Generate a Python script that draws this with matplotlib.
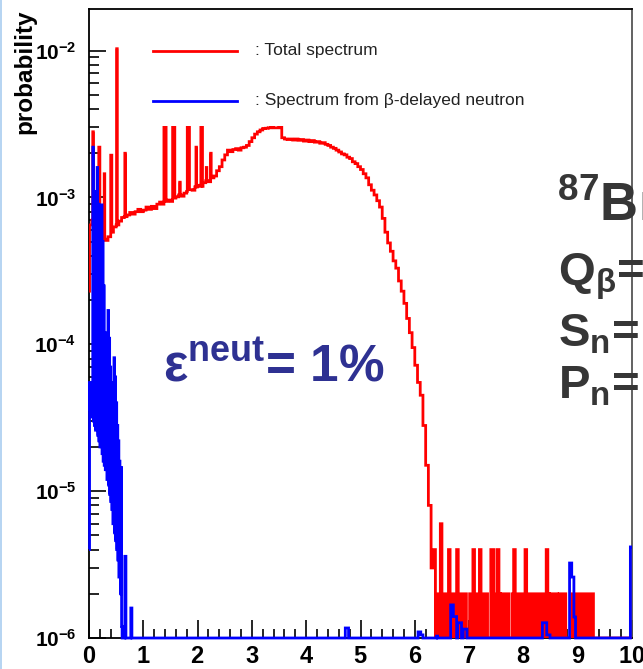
import numpy as np
import matplotlib
matplotlib.use("Agg")
import matplotlib.pyplot as plt
from matplotlib.ticker import FixedLocator, FuncFormatter, MultipleLocator, LogLocator, NullFormatter

plt.rcParams["font.family"] = ["Liberation Sans", "DejaVu Sans"]
plt.rcParams["mathtext.fontset"] = "custom"
plt.rcParams["mathtext.rm"] = "Liberation Sans"
plt.rcParams["mathtext.bf"] = "Liberation Sans:bold"
plt.rcParams["mathtext.it"] = "Liberation Sans:italic"
plt.rcParams["mathtext.sf"] = "Liberation Sans"

# ---------------- data ----------------
# Total spectrum: smooth part in 0.05 MeV bins from 0 to 6.35 MeV
red_first_bin = 2.3e-4
red_cont = [
    6.5e-4, 7.0e-4, 6.0e-4, 5.5e-4, 5.5e-4, 5.2e-4, 5.1e-4, 5.4e-4, 5.8e-4, 6.3e-4,
    6.5e-4, 6.9e-4, 7.3e-4, 7.4e-4, 7.6e-4, 7.9e-4, 7.7e-4, 8.0e-4, 8.3e-4, 8.0e-4,
    8.2e-4, 8.6e-4, 8.3e-4, 8.7e-4, 8.4e-4, 9.0e-4, 9.3e-4, 9.0e-4, 9.4e-4, 9.6e-4,
    9.4e-4, 9.9e-4, 1.01e-3, 1.04e-3, 1.02e-3, 1.07e-3, 1.10e-3, 1.13e-3, 1.12e-3, 1.18e-3,
    1.21e-3, 1.19e-3, 1.26e-3, 1.30e-3, 1.28e-3, 1.36e-3, 1.40e-3, 1.52e-3, 1.62e-3, 1.80e-3,
    1.95e-3, 2.10e-3, 2.05e-3, 2.12e-3, 2.15e-3, 2.10e-3, 2.18e-3, 2.20e-3, 2.26e-3, 2.40e-3,
    2.55e-3, 2.70e-3, 2.80e-3, 2.88e-3, 2.95e-3, 2.96e-3, 2.98e-3, 3.00e-3, 2.98e-3, 2.98e-3,
    3.00e-3, 2.55e-3, 2.50e-3, 2.48e-3, 2.50e-3, 2.46e-3, 2.50e-3, 2.45e-3, 2.48e-3, 2.42e-3,
    2.46e-3, 2.40e-3, 2.44e-3, 2.38e-3, 2.40e-3, 2.34e-3, 2.36e-3, 2.30e-3, 2.26e-3, 2.20e-3,
    2.16e-3, 2.10e-3, 2.04e-3, 1.98e-3, 1.95e-3, 1.88e-3, 1.84e-3, 1.75e-3, 1.70e-3, 1.62e-3,
    1.55e-3, 1.45e-3, 1.36e-3, 1.22e-3, 1.12e-3, 1.04e-3, 9.5e-4, 8.6e-4, 7.2e-4, 5.8e-4,
    4.9e-4, 4.3e-4, 3.7e-4, 3.3e-4, 2.7e-4, 2.3e-4, 1.9e-4, 1.5e-4, 1.2e-4, 9.5e-5,
    7.2e-5, 5.5e-5, 4.5e-5, 2.8e-5, 1.5e-5, 8.0e-6, 3.0e-6,
]
# narrow gamma lines on top of the smooth part: (start MeV, width MeV, probability)
red_peaks = [
    (0.07, 0.01, 2.8e-3), (0.18, 0.02, 2.2e-3), (0.28, 0.01, 1.45e-3),
    (0.40, 0.02, 1.94e-3), (0.51, 0.01, 1.03e-2), (0.66, 0.01, 2.0e-3),
    (1.38, 0.04, 3.0e-3), (1.54, 0.04, 3.0e-3), (1.67, 0.01, 1.27e-3),
    (1.81, 0.04, 3.0e-3), (1.97, 0.01, 2.2e-3), (2.06, 0.03, 3.0e-3),
    (2.16, 0.01, 1.6e-3), (2.24, 0.01, 2.0e-3),
]
# high-energy tail: counts in 0.03 MeV bins from 6.35 MeV, one count = 2e-6
count_unit = 2.0e-6
red_tail_counts = [
    2, 1, 1, 1, 3, 1, 1, 1, 1, 2, 1, 1, 1, 1, 2, 1, 1, 1, 1, 1,
    0, 0, 1, 1, 2, 1, 1, 1, 2, 1, 1, 1, 1, 0, 0, 2, 2, 1, 1, 2,
    1, 0, 1, 1, 1, 1, 0, 0, 1, 2, 1, 1, 1, 1, 1, 1, 2, 1, 1, 1,
    1, 1, 1, 1, 1, 1, 1, 1, 1, 2, 1, 0, 1, 1, 1, 1, 0, 1, 1, 1,
    1, 0, 0, 0, 0, 1, 1, 1, 1, 1, 1, 1, 1, 1, 1, 1, 1, 1, 0, 0,
]
# beta-delayed neutron spectrum, 0.01 MeV bins from 0 to 0.80 MeV
blue_low = [
    4.0e-6, 5.5e-5, 3.6e-5, 5.2e-5, 3.4e-5, 4.8e-5, 3.2e-5, 2.2e-3, 3.0e-5, 1.1e-3,
    2.8e-5, 6.0e-4, 2.6e-5, 6.5e-5, 7.0e-5, 1.6e-3, 2.4e-5, 9.0e-4, 2.2e-5, 4.0e-4,
    2.0e-5, 2.0e-4, 5.0e-5, 8.9e-4, 1.8e-5, 5.0e-4, 1.6e-5, 2.5e-4, 1.5e-5, 1.2e-4,
    1.4e-5, 4.0e-5, 3.5e-5, 1.2e-5, 3.0e-5, 1.7e-4, 1.1e-5, 1.1e-4, 9.5e-6, 7.0e-5,
    8.5e-6, 5.5e-5, 7.5e-6, 2.5e-5, 6.0e-6, 2.2e-5, 8.1e-5, 5.2e-6, 6.0e-5, 4.6e-6,
    4.0e-5, 4.0e-6, 2.8e-5, 3.4e-6, 2.2e-5, 2.6e-6, 1.6e-5, 1.45e-5, 2.0e-6, 1.45e-5,
    1.2e-6, 0, 0, 0, 0, 0, 3.6e-6, 3.6e-6, 0, 0,
    0, 0, 0, 0, 0, 0, 0, 1.6e-6, 1.6e-6, 0,
]
# small neutron contributions at higher energy: (start MeV, width MeV, probability)
blue_bumps = [
    (4.72, 0.06, 1.17e-6), (6.06, 0.05, 1.10e-6), (6.11, 0.04, 1.05e-6),
    (6.40, 0.02, 1.03e-6), (6.66, 0.05, 1.68e-6), (6.71, 0.06, 1.40e-6),
    (6.79, 0.07, 1.27e-6), (6.89, 0.07, 1.15e-6), (8.35, 0.08, 1.27e-6),
    (8.43, 0.06, 1.05e-6), (8.85, 0.04, 3.24e-6), (8.89, 0.04, 2.60e-6),
    (8.93, 0.03, 1.39e-6), (9.97, 0.03, 4.17e-6),
]

x_ticks = [0, 1, 2, 3, 4, 5, 6, 7, 8, 9, 10]
y_decades = [1e-6, 1e-5, 1e-4, 1e-3, 1e-2]
legend_labels = [": Total spectrum", ": Spectrum from \u03b2-delayed neutron"]

# ---------------- histograms on a 0.01 MeV grid ----------------
step = 0.01
nbin = 1000
edges = np.arange(nbin + 1) * step

red = np.zeros(nbin)
for i, v in enumerate(red_cont):
    red[5 * i:5 * i + 5] = v
red[0] = red_first_bin
for x0, w, v in red_peaks:
    i0 = int(round(x0 / step))
    red[i0:i0 + int(round(w / step))] = v
tail_start = 635
for i, c in enumerate(red_tail_counts):
    red[tail_start + 3 * i:tail_start + 3 * i + 3] = c * count_unit

blue = np.zeros(nbin)
blue[:len(blue_low)] = blue_low
for x0, w, v in blue_bumps:
    i0 = int(round(x0 / step))
    blue[i0:i0 + int(round(w / step))] = v

ymin, ymax = 1e-6, 1.92e-2
red_plot = np.maximum(red, ymin)
blue_plot = np.maximum(blue, ymin)

# ---------------- figure ----------------
W, H = 643, 669
fig = plt.figure(figsize=(W / 100, H / 100), dpi=100)
ax = fig.add_axes([89 / W, 1 - 638 / H, (632 - 89) / W, (638 - 9) / H])
ax.set_yscale("log")
ax.set_xlim(0, 10)
ax.set_ylim(ymin, ymax)

lw = 2.0
ax.stairs(red_plot, edges, color="#ff0000", lw=lw, baseline=None, zorder=3)
# dense single counts in the tail merge into a solid band
tail_edges = edges[tail_start:tail_start + 3 * len(red_tail_counts) + 1]
ax.stairs(red_plot[tail_start:tail_start + 3 * len(red_tail_counts)], tail_edges,
          fill=True, baseline=ymin, color="#ff0000", lw=0, zorder=3)
ax.stairs(blue_plot, edges, color="#0000ff", lw=lw, baseline=None, zorder=4,
          clip_on=False)

# axes frame and ticks
for s in ["left", "bottom", "top"]:
    ax.spines[s].set_linewidth(1.3)
    ax.spines[s].set_color("black")
ax.spines["right"].set_linewidth(1.3)
ax.spines["right"].set_color("#555555")

ax.xaxis.set_major_locator(FixedLocator(x_ticks))
ax.xaxis.set_minor_locator(MultipleLocator(0.2))
ax.yaxis.set_major_locator(FixedLocator(y_decades))
ax.yaxis.set_minor_locator(LogLocator(base=10, subs=np.arange(2, 10)))
ax.yaxis.set_minor_formatter(NullFormatter())
ax.tick_params(axis="x", which="major", direction="in", length=13, width=1.2,
               pad=6, labelsize=17, top=False)
ax.tick_params(axis="x", which="minor", direction="in", length=6.5, width=1.2, top=False)
ax.tick_params(axis="y", which="major", direction="in", length=12.5, width=1.2,
               pad=9, labelsize=15, right=False)
ax.tick_params(axis="y", which="minor", direction="in", length=7, width=1.2, right=False)
ax.xaxis.set_major_formatter(FuncFormatter(lambda v, p: r"$\mathbf{%d}$" % v))
ax.yaxis.set_major_formatter(
    FuncFormatter(lambda v, p: r"$\mathbf{10^{%d}}$" % int(round(np.log10(v)))))

fig.text(25 / W, 1 - 9 / H, "probability", rotation=90, ha="center", va="top",
         fontsize=17.5, fontweight="bold")

# legend drawn as lines and labels
leg_y = [50.5, 101]
leg_col = ["#ff0000", "#0000ff"]
for yy, col, lab in zip(leg_y, leg_col, legend_labels):
    fig.add_artist(plt.Line2D([153 / W, 237 / W], [1 - yy / H, 1 - yy / H],
                              color=col, lw=lw))
    fig.text(255 / W, 1 - yy / H, lab, ha="left", va="center", fontsize=12.5,
             color="#222222")

# efficiency annotation
fig.text(163 / W, 1 - 381 / H, r"$\mathbf{\varepsilon^{neut}}$= 1%", ha="left",
         va="baseline", fontsize=37, fontweight="bold", color="#2e3192")

# decay data (runs off the right edge)
gray = "#363636"
fig.text(557 / W, 1 - 221 / H, r"$\mathbf{^{87}}$Br", ha="left", va="baseline",
         fontsize=38, fontweight="bold", color=gray)
fig.text(558 / W, 1 - 285 / H, r"$\mathbf{Q_{\beta}}$=", ha="left", va="baseline",
         fontsize=34, fontweight="bold", color=gray)
fig.text(558 / W, 1 - 347 / H, r"$\mathbf{S_{n}}$=", ha="left", va="baseline",
         fontsize=34, fontweight="bold", color=gray)
fig.text(558 / W, 1 - 399 / H, r"$\mathbf{P_{n}}$=", ha="left", va="baseline",
         fontsize=34, fontweight="bold", color=gray)

# slide border on the left
fig.add_artist(plt.Line2D([1 / W, 1 / W], [0, 1], color="#a9cdf0", lw=1.2))

fig.savefig("out.png", dpi=100)
